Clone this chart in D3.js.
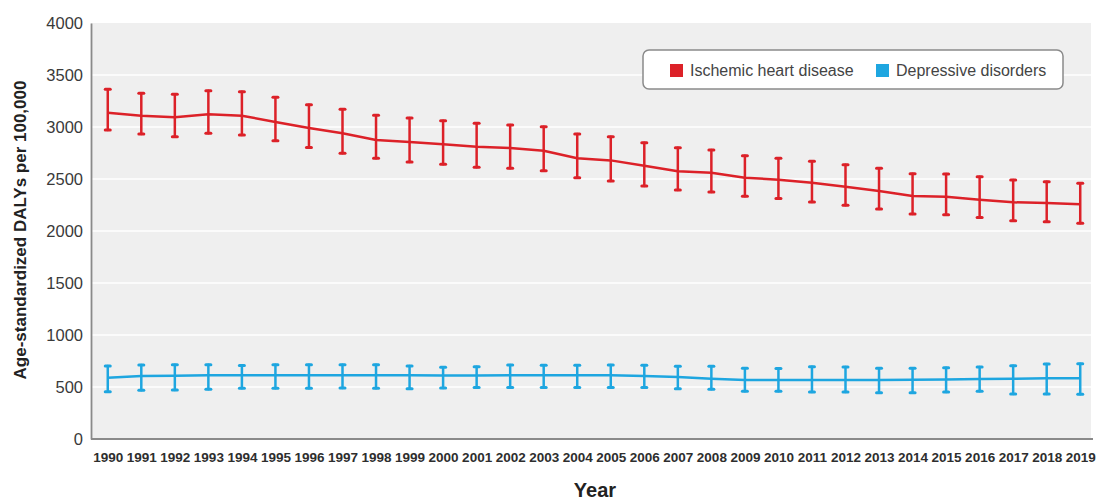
<!DOCTYPE html>
<html>
<head>
<meta charset="utf-8">
<script src="https://cdn.jsdelivr.net/npm/d3@7"></script>
<style>
  html, body { margin: 0; padding: 0; background: #ffffff; }
  svg { display: block; font-family: "Liberation Sans", Arial, sans-serif; }
</style>
</head>
<body>
<svg id="chart" width="1096" height="500"></svg>
<script>
// Age-standardized DALYs per 100,000, 1990–2019, with uncertainty intervals
const years = [1990, 1991, 1992, 1993, 1994, 1995, 1996, 1997, 1998, 1999,
               2000, 2001, 2002, 2003, 2004, 2005, 2006, 2007, 2008, 2009,
               2010, 2011, 2012, 2013, 2014, 2015, 2016, 2017, 2018, 2019];

const ihdMean  = [3137, 3109, 3093, 3122, 3109, 3048, 2990, 2939, 2875, 2856,
                  2834, 2811, 2798, 2772, 2699, 2679, 2628, 2574, 2561, 2513,
                  2493, 2465, 2426, 2385, 2337, 2330, 2301, 2276, 2269, 2257];
const ihdUpper = [3362, 3324, 3314, 3349, 3340, 3285, 3215, 3170, 3112, 3087,
                  3061, 3035, 3019, 3003, 2933, 2907, 2849, 2801, 2779, 2724,
                  2700, 2670, 2638, 2603, 2551, 2548, 2522, 2490, 2474, 2458];
const ihdLower = [2971, 2933, 2907, 2939, 2923, 2868, 2804, 2747, 2699, 2663,
                  2641, 2612, 2603, 2580, 2513, 2481, 2433, 2394, 2375, 2334,
                  2312, 2279, 2247, 2212, 2163, 2157, 2131, 2099, 2089, 2074];

const depMean  = [590, 606, 609, 612, 612, 612, 612, 612, 612, 612,
                  610, 610, 612, 612, 612, 612, 606, 596, 580, 568,
                  568, 568, 568, 568, 570, 572, 577, 580, 583, 585];
const depUpper = [702, 712, 715, 715, 706, 715, 715, 715, 715, 702,
                  689, 695, 712, 708, 708, 712, 708, 699, 699, 680,
                  678, 695, 692, 680, 680, 686, 692, 705, 721, 724];
const depLower = [455, 468, 471, 478, 487, 487, 487, 490, 487, 484,
                  490, 494, 494, 494, 494, 494, 494, 484, 478, 458,
                  458, 452, 452, 445, 445, 452, 458, 433, 433, 430];

const yTicks = [0, 500, 1000, 1500, 2000, 2500, 3000, 3500, 4000];
const seriesNames = ["Ischemic heart disease", "Depressive disorders"];
const seriesColors = ["#dc2128", "#1ea6e0"];

const svg = d3.select("#chart");

const plot = { left: 91, right: 1091, top: 23, bottom: 439 };

const x = d3.scalePoint()
  .domain(years)
  .range([plot.left, plot.left + 1006])
  .padding(0.5);

const y = d3.scaleLinear()
  .domain([0, 4000])
  .range([plot.bottom, plot.top]);

// plot background
svg.append("rect")
  .attr("x", plot.left)
  .attr("y", plot.top)
  .attr("width", plot.right - plot.left)
  .attr("height", plot.bottom - plot.top)
  .attr("fill", "#efefef");

// horizontal gridlines
svg.append("g")
  .selectAll("line")
  .data(yTicks.filter(t => t > 0 && t < 4000))
  .join("line")
  .attr("x1", plot.left)
  .attr("x2", plot.right)
  .attr("y1", d => y(d))
  .attr("y2", d => y(d))
  .attr("stroke", "#ffffff")
  .attr("stroke-width", 1.5);

// y axis
const yAxis = svg.append("g")
  .attr("transform", `translate(${plot.left},0)`)
  .call(d3.axisLeft(y).tickValues(yTicks).tickFormat(d3.format("d")).tickSize(0).tickPadding(8));
yAxis.select(".domain").attr("stroke", "#8a8a8a").attr("stroke-width", 1.8);
yAxis.selectAll("text")
  .attr("font-size", "16.5px")
  .attr("fill", "#3a3a3a")
  .attr("font-family", "'Liberation Sans', Arial, sans-serif");

// x axis
const xAxis = svg.append("g")
  .attr("transform", `translate(0,${plot.bottom})`)
  .call(d3.axisBottom(x).tickFormat(d3.format("d")).tickSize(0).tickPadding(13));
xAxis.select(".domain")
  .attr("d", `M${plot.left},0H${plot.right + 2}`)
  .attr("stroke", "#8a8a8a")
  .attr("stroke-width", 1.8);
xAxis.selectAll("text")
  .attr("font-size", "13.5px")
  .attr("font-weight", "bold")
  .attr("fill", "#2e2e2e")
  .attr("font-family", "'Liberation Sans', Arial, sans-serif");

// axis titles
svg.append("text")
  .attr("x", 595)
  .attr("y", 497)
  .attr("text-anchor", "middle")
  .attr("font-size", "20px")
  .attr("font-weight", "bold")
  .attr("fill", "#222222")
  .text("Year");

svg.append("text")
  .attr("transform", "translate(26,230) rotate(-90)")
  .attr("text-anchor", "middle")
  .attr("font-size", "17px")
  .attr("font-weight", "bold")
  .attr("fill", "#222222")
  .text("Age-standardized DALYs per 100,000");

// series with error bars
const series = [
  { mean: ihdMean, upper: ihdUpper, lower: ihdLower, color: seriesColors[0] },
  { mean: depMean, upper: depUpper, lower: depLower, color: seriesColors[1] }
];

const line = d3.line()
  .x(d => x(d.year))
  .y(d => y(d.value));

const capHalf = 2.5;

series.forEach(s => {
  const pts = years.map((yr, i) => ({ year: yr, value: s.mean[i], hi: s.upper[i], lo: s.lower[i] }));
  const g = svg.append("g");

  g.append("path")
    .datum(pts)
    .attr("d", line)
    .attr("fill", "none")
    .attr("stroke", s.color)
    .attr("stroke-width", 2.5)
    .attr("stroke-linejoin", "round");

  const bars = g.selectAll("g.err")
    .data(pts)
    .join("g")
    .attr("class", "err")
    .attr("stroke", s.color)
    .attr("stroke-linecap", "round");

  bars.append("line")
    .attr("x1", d => x(d.year)).attr("x2", d => x(d.year))
    .attr("y1", d => y(d.hi)).attr("y2", d => y(d.lo))
    .attr("stroke-width", 2.5);

  bars.append("line")
    .attr("x1", d => x(d.year) - capHalf).attr("x2", d => x(d.year) + capHalf)
    .attr("y1", d => y(d.hi)).attr("y2", d => y(d.hi))
    .attr("stroke-width", 3);

  bars.append("line")
    .attr("x1", d => x(d.year) - capHalf).attr("x2", d => x(d.year) + capHalf)
    .attr("y1", d => y(d.lo)).attr("y2", d => y(d.lo))
    .attr("stroke-width", 3);
});

// legend
const legend = svg.append("g");
legend.append("rect")
  .attr("x", 643)
  .attr("y", 50)
  .attr("width", 420)
  .attr("height", 39)
  .attr("rx", 6)
  .attr("fill", "#ffffff")
  .attr("stroke", "#8a8a8a")
  .attr("stroke-width", 1.5);

const legendItems = [
  { name: seriesNames[0], color: seriesColors[0], x: 670 },
  { name: seriesNames[1], color: seriesColors[1], x: 876 }
];

const li = legend.selectAll("g.item")
  .data(legendItems)
  .join("g")
  .attr("class", "item");

li.append("rect")
  .attr("x", d => d.x)
  .attr("y", 64)
  .attr("width", 13)
  .attr("height", 13)
  .attr("fill", d => d.color);

li.append("text")
  .attr("x", d => d.x + 20)
  .attr("y", 76)
  .attr("font-size", "16px")
  .attr("fill", "#444444")
  .text(d => d.name);
</script>
</body>
</html>
